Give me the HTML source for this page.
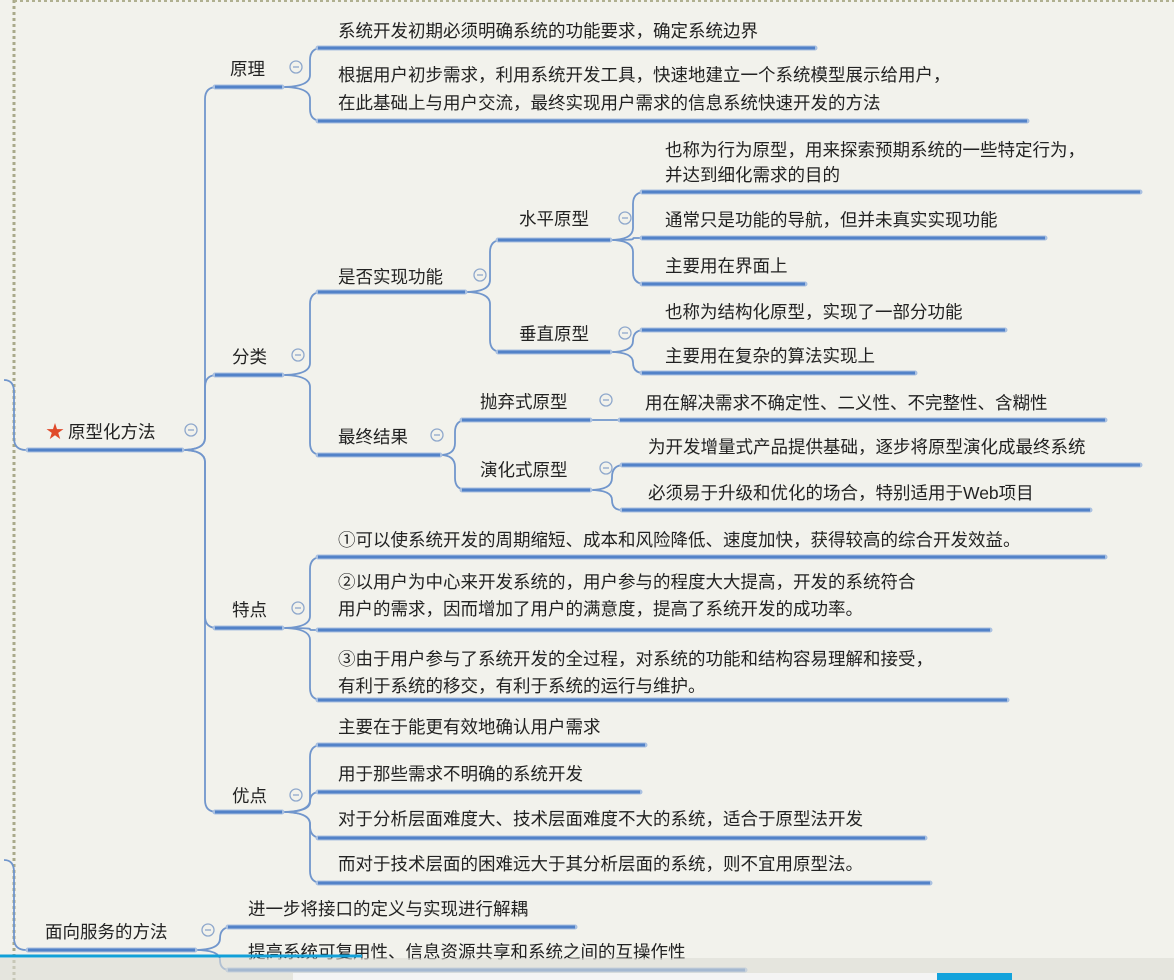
<!DOCTYPE html>
<html><head><meta charset="utf-8"><style>
html,body{margin:0;padding:0;background:#f2f2ec;}
svg{display:block}
text{font-family:"Liberation Sans","Noto Sans CJK SC",sans-serif;font-size:17.5px;fill:#222;}
</style></head><body>
<svg id="s" width="1174" height="980" xmlns="http://www.w3.org/2000/svg">
<rect width="1174" height="980" fill="#f2f2ec"/>
<line x1="14" y1="0" x2="14" y2="980" stroke="#a9a98a" stroke-width="3" stroke-dasharray="3,3"/>
<line x1="14" y1="1" x2="1174" y2="1" stroke="#b0b090" stroke-width="2" stroke-dasharray="3,3"/>
<g id="lines"></g>
<g id="uls"></g>
<g id="circ" fill="none" stroke="#8fa8cc" stroke-width="1.3"></g>
<text x="46" y="438" style="fill:#e04a2a;font-size:18px">★</text>
<text x="68" y="438">原型化方法</text>
<text x="45" y="938">面向服务的方法</text>
<text x="230" y="75">原理</text>
<text x="232" y="363">分类</text>
<text x="232" y="616">特点</text>
<text x="232" y="802">优点</text>
<text x="338" y="37">系统开发初期必须明确系统的功能要求，确定系统边界</text>
<text x="338" y="81">根据用户初步需求，利用系统开发工具，快速地建立一个系统模型展示给用户，</text>
<text x="338" y="109">在此基础上与用户交流，最终实现用户需求的信息系统快速开发的方法</text>
<text x="338" y="283">是否实现功能</text>
<text x="338" y="443">最终结果</text>
<text x="519" y="225">水平原型</text>
<text x="519" y="340">垂直原型</text>
<text x="665" y="156">也称为行为原型，用来探索预期系统的一些特定行为，</text>
<text x="665" y="181">并达到细化需求的目的</text>
<text x="665" y="226">通常只是功能的导航，但并未真实实现功能</text>
<text x="665" y="272">主要用在界面上</text>
<text x="665" y="318">也称为结构化原型，实现了一部分功能</text>
<text x="665" y="362">主要用在复杂的算法实现上</text>
<text x="480" y="408">抛弃式原型</text>
<text x="480" y="476">演化式原型</text>
<text x="645" y="409">用在解决需求不确定性、二义性、不完整性、含糊性</text>
<text x="648" y="453">为开发增量式产品提供基础，逐步将原型演化成最终系统</text>
<text x="648" y="499">必须易于升级和优化的场合，特别适用于Web项目</text>
<text x="338" y="546">①可以使系统开发的周期缩短、成本和风险降低、速度加快，获得较高的综合开发效益。</text>
<text x="338" y="588">②以用户为中心来开发系统的，用户参与的程度大大提高，开发的系统符合</text>
<text x="338" y="615">用户的需求，因而增加了用户的满意度，提高了系统开发的成功率。</text>
<text x="338" y="665">③由于用户参与了系统开发的全过程，对系统的功能和结构容易理解和接受，</text>
<text x="338" y="692">有利于系统的移交，有利于系统的运行与维护。</text>
<text x="338" y="733">主要在于能更有效地确认用户需求</text>
<text x="338" y="780">用于那些需求不明确的系统开发</text>
<text x="338" y="825">对于分析层面难度大、技术层面难度不大的系统，适合于原型法开发</text>
<text x="338" y="870">而对于技术层面的困难远大于其分析层面的系统，则不宜用原型法。</text>
<text x="248" y="915">进一步将接口的定义与实现进行解耦</text>
<text x="248" y="958">提高系统可复用性、信息资源共享和系统之间的互操作性</text>
<rect x="0" y="958" width="1174" height="22" fill="#dcdcd6" opacity="0.6"/>
<line x1="0" y1="956" x2="362" y2="956" stroke="#12a0d8" stroke-width="3"/>
<rect x="293" y="973" width="644" height="7" fill="#f4f4f4"/>
<rect x="937" y="973" width="75" height="7" fill="#13a3dc"/>
</svg>
<script>
var NS="http://www.w3.org/2000/svg";
var L=document.getElementById("lines"),U=document.getElementById("uls"),C=document.getElementById("circ");
function el(g,t,a){var e=document.createElementNS(NS,t);for(var k in a)e.setAttribute(k,a[k]);g.appendChild(e);}
function ul(x1,x2,y){el(U,"line",{x1:x1,y1:y,x2:x2,y2:y,stroke:"#a9c0e0","stroke-width":5,"stroke-linecap":"round"});el(U,"line",{x1:x1,y1:y,x2:x2,y2:y,stroke:"#5282c8","stroke-width":3});}
function br(px,py,sx,cx,ys){ys.forEach(function(cy){var d;var s=cy>py?1:-1;var r=Math.min(12,Math.abs(cy-py)/2);
if(Math.abs(cy-py)<2)d="M"+px+","+py+" L"+cx+","+cy;else
d="M"+px+","+py+" Q"+sx+","+py+" "+sx+","+(py+s*r)+" L"+sx+","+(cy-s*r)+" Q"+sx+","+cy+" "+(sx+r)+","+cy+" L"+cx+","+cy;
el(L,"path",{d:d,fill:"none",stroke:"#7196cc","stroke-width":1.8});});}
[[191,430],[208,930],[296,67],[298,355],[298,608],[296,795],[480,275],[437,435],[625,218],[625,333],[606,400],[606,468]].forEach(function(p){
el(C,"circle",{cx:p[0],cy:p[1],r:6});el(C,"line",{x1:p[0]-3,y1:p[1],x2:p[0]+3,y2:p[1]});});
br(4,380,14,28,[450]);br(4,860,14,28,[950]);
ul(28,182,450);ul(28,195,950);
br(182,450,205,215,[87,375,628,812]);
ul(215,282,87);ul(215,282,375);ul(215,282,628);ul(215,282,812);
br(282,87,310,318,[48,121]);ul(318,815,48);ul(318,1027,121);
br(282,375,310,318,[292,455]);ul(318,465,292);ul(318,440,455);
br(465,292,490,498,[240,352]);ul(498,610,240);ul(498,610,352);
br(610,240,633,642,[192,238,284]);ul(642,1140,192);ul(642,1045,238);ul(642,805,284);
br(610,352,633,642,[330,373]);ul(642,1005,330);ul(642,915,373);
br(440,455,455,462,[420,490]);ul(462,590,420);ul(462,590,490);
br(590,420,605,620,[420]);ul(620,1105,420);
br(590,490,612,622,[465,510]);ul(622,1140,465);ul(622,1090,510);
br(282,628,310,318,[557,630,700]);ul(318,1105,557);ul(318,990,630);ul(318,1007,700);
br(282,812,310,318,[745,792,838,883]);ul(318,645,745);ul(318,640,792);ul(318,925,838);ul(318,930,883);
br(195,950,220,228,[927,970]);ul(228,575,927);ul(228,745,970);
</script>
</body></html>
